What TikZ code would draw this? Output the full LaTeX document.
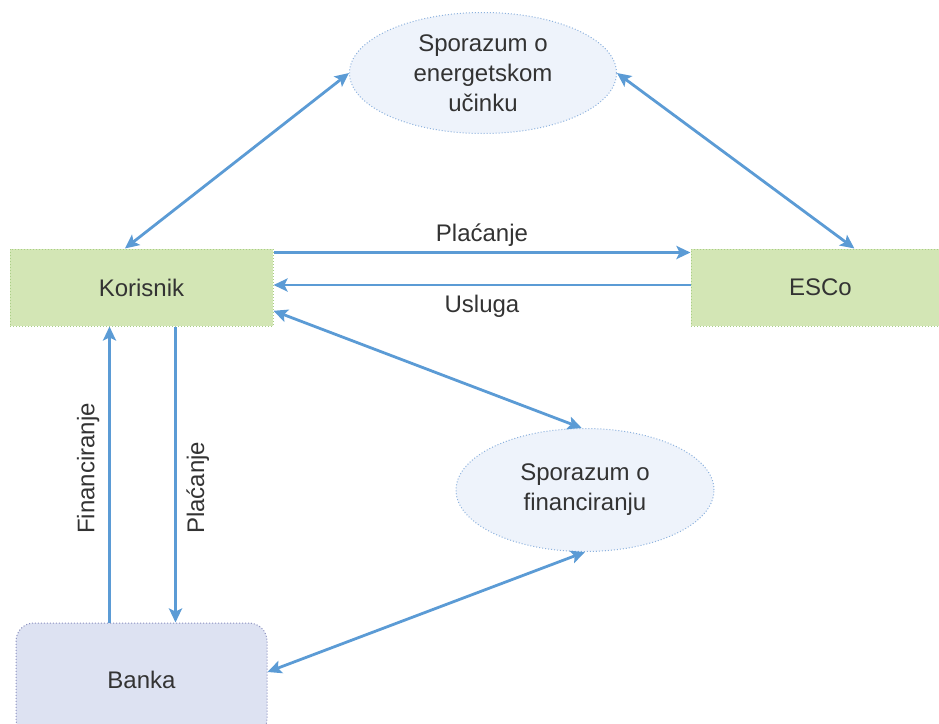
\documentclass[tikz,border=0pt]{standalone}
\usepackage{fontspec}
\setmainfont{Liberation Sans}
\usetikzlibrary{shapes.geometric,arrows.meta}
\definecolor{flowblue}{HTML}{5B9BD5}
\definecolor{boxgreen}{HTML}{D3E6B5}
\definecolor{boxgreenline}{HTML}{A9CF86}
\definecolor{ovalfill}{HTML}{EEF3FB}
\definecolor{ovalline}{HTML}{8DB2DE}
\definecolor{bankfill}{HTML}{DDE2F2}
\definecolor{bankline}{HTML}{8A8FBE}
\definecolor{txt}{HTML}{333333}
\tikzset{
  >={Stealth[length=7pt,width=6.5pt,inset=1.5pt]},
  party/.style={rectangle, fill=boxgreen, draw=boxgreenline, densely dotted, line width=0.5pt,
    minimum width=131.5pt, minimum height=38.5pt, text=txt, font=\fontsize{12}{15}\selectfont},
  deal/.style={ellipse, fill=ovalfill, draw=ovalline, densely dotted, line width=0.5pt,
    align=center, inner sep=0pt, text=txt, font=\fontsize{12}{15}\selectfont},
  bankbox/.style={rectangle, rounded corners=9pt, fill=bankfill, draw=bankline, densely dotted,
    line width=0.5pt, minimum width=125.5pt, minimum height=57pt, text=txt,
    font=\fontsize{12}{15}\selectfont},
  flow/.style={draw=flowblue, line width=1.4pt, solid},
  lbl/.style={text=txt, font=\fontsize{12}{15}\selectfont}
}

\begin{document}
\begin{tikzpicture}[x=0.5pt,y=-0.5pt]
  \useasboundingbox (0,0) rectangle (939,724);
  % nodes
  \node[deal, minimum width=133.5pt, minimum height=60.5pt] (spe) at (483,73)
    {Sporazum o\\energetskom\\učinku};
  \node[party] (kor) at (141.5,287.5) {Korisnik};
  \node[party, minimum width=129.5pt] (esco) at (820.5,287.5) {ESCo};
  \node[deal, minimum width=129pt, minimum height=61.5pt] (sfi) at (585,490)
    {Sporazum o\\financiranju};
  \node[bankbox] (bank) at (141.5,680) {Banka};
  % agreement links
  \draw[flow,<->] (kor.113) -- (spe.west);
  \draw[flow,<->] (spe.east) -- (esco.49);
  \draw[flow,<->] (kor.-10.5) -- (sfi.93);
  \draw[flow,<->] ([yshift=4pt]bank.east) -- (sfi.south);
  % payments and services
  \draw[flow,->] ([yshift=-2pt]kor.north east) -- node[lbl,above,yshift=-1pt] {Plaćanje} ([yshift=-2pt]esco.north west);
  \draw[flow,->] ([yshift=1.25pt]esco.west) -- node[lbl,below,yshift=-1pt] {Usluga} ([yshift=1.25pt]kor.east);
  \draw[flow,->] ([xshift=-16pt]bank.north) -- node[lbl,rotate=90,anchor=south,pos=0.52,yshift=1pt] {Financiranje} ([xshift=-16pt]kor.south);
  \draw[flow,->] ([xshift=17pt]kor.south) -- node[lbl,rotate=90,anchor=north,pos=0.545,yshift=-1.5pt] {Plaćanje} ([xshift=17pt]bank.north);
\end{tikzpicture}
\end{document}
